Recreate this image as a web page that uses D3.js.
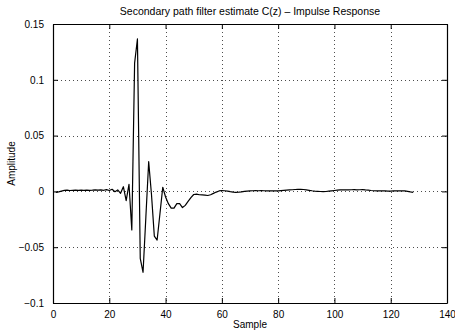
<!DOCTYPE html>
<html>
<head>
<meta charset="utf-8">
<script src="https://cdn.jsdelivr.net/npm/d3@7"></script>
<style>
  html, body { margin: 0; padding: 0; background: #fff; }
  svg { display: block; font-family: "Liberation Sans", Arial, Helvetica, sans-serif; }
</style>
</head>
<body>
<div id="chart"></div>
<script>
// Impulse response samples (sample index 1..128)
const amplitude = [
  -0.0008, -0.0004, 0.0003, 0.0009, 0.0011, 0.0008, 0.0010, 0.0012, 0.0009, 0.0011,
  0.0010, 0.0012, 0.0010, 0.0011, 0.0013, 0.0011, 0.0014, 0.0010, 0.0016, 0.0008,
  0.0019, -0.0003, 0.0013, -0.0017, 0.0042, -0.0083, 0.0064, -0.0346, 0.1150, 0.1366,
  -0.0600, -0.0725, -0.0230, 0.0266, -0.0030, -0.0400, -0.0436, -0.0200, 0.0037, -0.0050,
  -0.0110, -0.0150, -0.0150, -0.0110, -0.0110, -0.0145, -0.0125, -0.0090, -0.0055, -0.0028,
  -0.0025, -0.0030, -0.0032, -0.0034, -0.0037, -0.0030, -0.0018, -0.0006, 0.0004, 0.0008,
  0.0006, 0.0003, -0.0002, -0.0006, -0.0008, -0.0007, -0.0004, 0.0000, 0.0003, 0.0005,
  0.0006, 0.0007, 0.0006, 0.0007, 0.0006, 0.0005, 0.0006, 0.0005, 0.0006, 0.0005,
  0.0007, 0.0009, 0.0011, 0.0013, 0.0015, 0.0017, 0.0018, 0.0019, 0.0017, 0.0014,
  0.0010, 0.0006, 0.0003, 0.0001, -0.0001, -0.0002, -0.0001, 0.0002, 0.0005, 0.0008,
  0.0011, 0.0013, 0.0014, 0.0015, 0.0014, 0.0015, 0.0016, 0.0014, 0.0015, 0.0016,
  0.0013, 0.0011, 0.0008, 0.0006, 0.0005, 0.0004, 0.0005, 0.0004, 0.0002, 0.0003,
  0.0005, 0.0004, 0.0005, 0.0006, 0.0004, 0.0000, -0.0005, -0.0009
];
const xTicks = [0, 20, 40, 60, 80, 100, 120, 140];
const yTicks = [-0.1, -0.05, 0, 0.05, 0.1, 0.15];
const yTickLabels = ['\u22120.1', '\u22120.05', '0', '0.05', '0.1', '0.15'];

const W = 455, H = 332;
const margin = { top: 24, right: 8, bottom: 29, left: 53 };

const svg = d3.select('#chart').append('svg').attr('width', W).attr('height', H);

const x = d3.scaleLinear().domain([0, 140]).range([margin.left, W - margin.right]);
const y = d3.scaleLinear().domain([-0.1, 0.15]).range([H - margin.bottom, margin.top]);

// grid (dotted)
const grid = svg.append('g').attr('stroke', '#000').attr('stroke-width', 0.7)
  .attr('stroke-dasharray', '1,3');
grid.selectAll('line.gx').data(xTicks.slice(1, -1)).enter().append('line')
  .attr('x1', d => Math.round(x(d)) + 0.5).attr('x2', d => Math.round(x(d)) + 0.5)
  .attr('y1', y(0.15)).attr('y2', y(-0.1));
grid.selectAll('line.gy').data(yTicks.slice(1, -1)).enter().append('line')
  .attr('y1', d => Math.round(y(d)) + 0.5).attr('y2', d => Math.round(y(d)) + 0.5)
  .attr('x1', x(0)).attr('x2', x(140));

// data line
const line = d3.line().x((d, i) => x(i + 1)).y(d => y(d));
svg.append('path').datum(amplitude)
  .attr('fill', 'none').attr('stroke', '#000').attr('stroke-width', 1.2)
  .attr('stroke-linejoin', 'round')
  .attr('d', line);

// axes (ticks inside, MATLAB style)
const tl = 5;
svg.append('g').attr('transform', `translate(0,${y(-0.1)})`)
  .call(d3.axisBottom(x).tickValues(xTicks).tickSizeInner(-tl).tickSizeOuter(0).tickPadding(8))
  .call(g => g.selectAll('text').attr('font-size', 10).attr('fill', '#000'));
svg.append('g').attr('transform', `translate(0,${y(0.15)})`)
  .call(d3.axisTop(x).tickValues(xTicks).tickSizeInner(-tl).tickSizeOuter(0).tickFormat(''));
svg.append('g').attr('transform', `translate(${x(0)},0)`)
  .call(d3.axisLeft(y).tickValues(yTicks).tickSizeInner(-tl).tickSizeOuter(0).tickPadding(9)
    .tickFormat((d, i) => yTickLabels[i]))
  .call(g => g.selectAll('text').attr('font-size', 10).attr('fill', '#000'));
svg.append('g').attr('transform', `translate(${x(140)},0)`)
  .call(d3.axisRight(y).tickValues(yTicks).tickSizeInner(-tl).tickSizeOuter(0).tickFormat(''));
svg.selectAll('.domain').attr('stroke', '#000').attr('stroke-width', 1.2);
svg.selectAll('.tick line').attr('stroke', '#000');

// texts
svg.append('text').attr('x', (x(0) + x(140)) / 2).attr('y', 15)
  .attr('text-anchor', 'middle').attr('font-size', 10.5)
  .text('Secondary path filter estimate C(z) \u2013 Impulse Response');
svg.append('text').attr('x', (x(0) + x(140)) / 2).attr('y', 328)
  .attr('text-anchor', 'middle').attr('font-size', 10).text('Sample');
svg.append('text').attr('transform', `translate(15,${(y(0.15) + y(-0.1)) / 2}) rotate(-90)`)
  .attr('text-anchor', 'middle').attr('font-size', 10).text('Amplitude');
</script>
</body>
</html>
